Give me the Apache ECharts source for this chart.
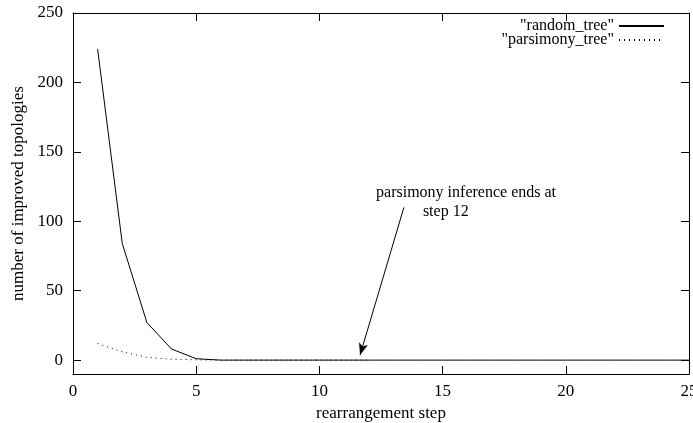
<!DOCTYPE html>
<html>
<head>
<meta charset="utf-8">
<script src="https://cdn.jsdelivr.net/npm/echarts@6/dist/echarts.min.js"></script>
<style>
  html, body { margin: 0; padding: 0; background: #fff; }
  #chart { width: 693px; height: 423px; }
</style>
</head>
<body>
<div id="chart"></div>
<script>
// rearrangement steps and improved topology counts
const randomSteps = [1,2,3,4,5,6,7,8,9,10,11,12,13,14,15,16,17,18,19,20,21,22,23,24,25];
const randomValues = [224,84,27,8,1,0,0,0,0,0,0,0,0,0,0,0,0,0,0,0,0,0,0,0,0];
const parsSteps = [1,2,3,4,5,6,7,8,9,10,11,12];
const parsValues = [12,6,2,0.7,0.2,0,0,0,0,0,0,0];
const xTicks = [0,5,10,15,20,25];
const yTicks = [0,50,100,150,200,250];
// annotation text anchors and arrow (data coordinates)
const noteLines = [
  { text: 'parsimony inference ends at', at: [12.3, 120.5] },
  { text: 'step 12', at: [14.2, 106.5] }
];
const arrowFrom = [13.43, 110];
const arrowTo = [11.65, 3.6];

const font = 'Liberation Serif, Times New Roman, serif';
const chart = echarts.init(document.getElementById('chart'));

chart.setOption({
  animation: false,
  grid: { left: 73, right: 4, top: 13, bottom: 49, outerBoundsMode: 'none' },
  legend: {
    orient: 'vertical',
    right: 23,
    top: 13,
    align: 'right',
    itemWidth: 45,
    itemHeight: 14,
    itemGap: -2,
    itemStyle: { color: 'transparent', borderColor: 'transparent' },
    textStyle: { fontFamily: font, fontSize: 16, color: '#000' },
    data: ['"random_tree"', '"parsimony_tree"']
  },
  xAxis: [{
    type: 'value', min: 0, max: 25, interval: 5,
    name: 'rearrangement step', nameLocation: 'middle', nameGap: 29,
    nameTextStyle: { fontFamily: font, fontSize: 17, color: '#000' },
    axisLine: { show: true, onZero: false, lineStyle: { color: '#000', width: 1 } },
    axisTick: { show: true, inside: true, length: 8, lineStyle: { color: '#000', width: 1 } },
    splitLine: { show: false },
    axisLabel: { fontFamily: font, fontSize: 17, color: '#000', margin: 9 }
  }, {
    type: 'value', min: 0, max: 25, interval: 5, position: 'top',
    axisLine: { show: true, onZero: false, lineStyle: { color: '#000', width: 1 } },
    axisTick: { show: true, inside: true, length: 8, lineStyle: { color: '#000', width: 1 } },
    splitLine: { show: false },
    axisLabel: { show: false }
  }],
  yAxis: [{
    type: 'value', min: -10, max: 250,
    name: 'number of improved topologies', nameLocation: 'middle', nameGap: 46,
    nameTextStyle: { fontFamily: font, fontSize: 17, color: '#000' },
    axisLine: { show: true, onZero: false, lineStyle: { color: '#000', width: 1 } },
    axisTick: { show: true, inside: true, length: 8, customValues: yTicks, lineStyle: { color: '#000', width: 1 } },
    splitLine: { show: false },
    axisLabel: { fontFamily: font, fontSize: 17, color: '#000', margin: 10, customValues: yTicks }
  }, {
    type: 'value', min: -10, max: 250, position: 'right',
    axisLine: { show: true, onZero: false, lineStyle: { color: '#000', width: 1 } },
    axisTick: { show: true, inside: true, length: 8, customValues: yTicks, lineStyle: { color: '#000', width: 1 } },
    splitLine: { show: false },
    axisLabel: { show: false, customValues: yTicks }
  }],
  series: [
    {
      name: '"random_tree"',
      type: 'line',
      symbol: 'none',
      lineStyle: { color: '#000', width: 1 },
      itemStyle: { color: '#000' },
      data: randomSteps.map((s, i) => [s, randomValues[i]]),
      markLine: {
        silent: true,
        symbol: ['none', 'arrow'],
        symbolSize: [7, 12],
        label: { show: false },
        lineStyle: { color: '#000', width: 1, type: 'solid' },
        data: [[{ coord: arrowFrom }, { coord: arrowTo }]]
      },
      markPoint: {
        silent: true,
        symbol: 'circle',
        symbolSize: 0,
        label: {
          show: true,
          position: 'right',
          distance: 0,
          fontFamily: font,
          fontSize: 16,
          color: '#000',
          formatter: p => p.name
        },
        data: noteLines.map(n => ({ name: n.text, coord: n.at }))
      }
    },
    {
      name: '"parsimony_tree"',
      type: 'line',
      symbol: 'none',
      lineStyle: { color: '#000', width: 1, type: [1, 4] },
      itemStyle: { color: '#000' },
      data: parsSteps.map((s, i) => [s, parsValues[i]])
    }
  ]
});
</script>
</body>
</html>
